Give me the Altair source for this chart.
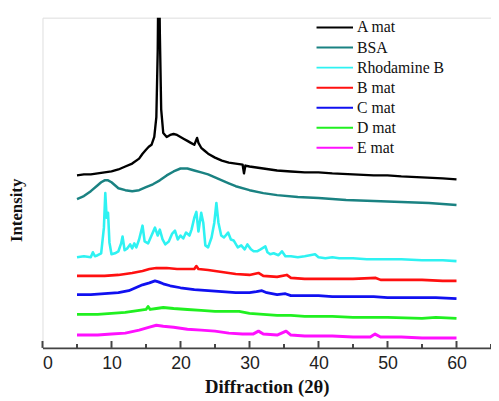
import altair as alt
import pandas as pd

names = ["A mat", "BSA", "Rhodamine B", "B mat", "C mat", "D mat", "E mat"]
colors = ["#000000", "#1a8282", "#2ef2f2", "#ff1010", "#1010f0", "#20f020", "#ff10ff"]
widths = [2.4, 3.0, 2.4, 2.6, 2.6, 2.6, 2.6]

# Intensity in arbitrary (offset-stacked) units
a_x = [5, 6, 7, 8, 9, 10, 11, 12, 13, 14, 14.5, 15, 15.4, 15.8, 16.2, 16.5, 16.7, 16.85, 17.0,
       17.2, 17.5, 18, 18.5, 19, 19.5, 20, 20.5, 21, 21.5, 22, 22.4, 22.6, 23, 23.5, 24, 25, 26,
       27, 28, 29, 29.2, 29.4, 30, 32, 34, 36, 38, 40, 42, 45, 48, 50, 52, 55, 58, 60]
a_y = [173, 174, 174, 175, 176, 177, 179, 182, 185, 190, 195, 199, 202, 204, 212, 232, 300, 420, 320,
       240, 216, 212, 214, 215, 214, 212, 210, 208, 206, 204, 211, 206, 201, 198, 195, 191, 188,
       186, 185, 184, 175, 183, 182, 180, 178, 177, 176, 176, 175, 174, 173, 173, 172, 171, 170, 169]

bsa_x = [5, 6, 7, 8, 8.5, 9, 9.5, 10, 10.5, 11, 12, 13, 14, 15, 16, 17, 18, 19, 20, 20.5, 21, 22,
         23, 24, 25, 26, 27, 28, 30, 32, 34, 37, 40, 44, 48, 52, 56, 60]
bsa_y = [149, 152, 157, 163, 166, 168, 168, 166, 163, 160, 158, 157, 158, 161, 164, 168, 173, 177, 180,
         180, 180, 178, 176, 174, 171, 168, 165, 162, 158, 155, 153, 151, 150, 148, 147, 146, 145, 143]

rb_x = [5, 6, 7, 7.3, 7.6, 8, 8.5, 8.9, 9.1, 9.3, 9.5, 9.7, 10, 10.5, 11, 11.4, 11.6, 11.9, 12.3,
        12.7, 13, 13.3, 13.6, 14, 14.5, 14.8, 15.3, 15.8, 16.3, 16.7, 17, 17.4, 17.8, 18.3, 18.8,
        19.2, 19.6, 20, 20.4, 20.8, 21.3, 21.6, 22, 22.3, 22.6, 23, 23.3, 23.6, 24, 24.5, 24.9,
        25.2, 25.5, 25.9, 26.3, 26.9, 27.3, 27.7, 28.3, 28.8, 29.3, 29.7, 30.2, 30.6, 31.1, 31.6,
        32.3, 32.6, 33, 33.5, 34.2, 34.7, 35.2, 36, 37, 38, 39.5, 40, 41, 42, 43, 45, 47, 50, 52,
        55, 58, 60]
rb_y = [90, 91, 90, 95, 91, 92, 94, 120, 155, 130, 135, 105, 93, 94, 96, 104, 111, 97, 99,
        103, 99, 104, 100, 108, 122, 106, 104, 112, 120, 112, 118, 108, 103, 106, 114,
        117, 108, 112, 109, 115, 112, 118, 130, 136, 116, 135, 125, 102, 100, 110, 125,
        145, 125, 112, 110, 115, 108, 107, 100, 102, 98, 103, 98, 96, 96, 98,
        101, 95, 93, 94, 92, 96, 91, 91, 90, 91, 93, 90, 89, 90, 89, 89, 88, 88, 88,
        87, 87, 86]

b_x = [5, 7, 9, 11, 13, 14.5, 15.5, 16.5, 18, 19.5, 21, 22, 22.3, 22.6, 24, 26, 28, 30, 31.3, 32,
       34, 35.4, 36, 38, 40, 42, 45, 48.3, 49, 52, 55, 58, 60]
b_y = [71, 71, 71, 72, 74, 76, 78, 79, 79, 78, 78, 78, 81, 78, 77, 75, 73, 72, 74, 71,
       70, 72, 69, 68, 68, 68, 68, 69, 67, 67, 67, 66, 66]

c_x = [5, 7, 9, 11, 12.5, 13.5, 14.5, 15.5, 16.3, 16.8, 17.5, 18.5, 20, 22, 24, 26, 28, 30, 31,
       31.8, 32.5, 34, 35.2, 36, 38, 40, 42, 45, 48, 50, 54, 57, 60]
c_y = [52, 52, 53, 54, 56, 59, 62, 64, 66, 65, 63, 61, 59, 57, 56, 55, 54, 54, 55,
       56, 54, 52, 53, 51, 51, 51, 50, 50, 50, 49, 49, 49, 48]

d_x = [5, 8, 10, 12, 14, 15, 15.3, 15.6, 16.5, 17.5, 19, 21, 23, 25, 27, 28.5, 30, 32, 34, 36,
       38, 40, 42, 45, 50, 55, 57, 60]
d_y = [32, 32, 33, 34, 36, 37, 40, 37, 38, 39, 38, 37, 36, 35, 35, 35, 33, 32, 31, 31,
       30, 30, 30, 29, 29, 28, 29, 28]

e_x = [5, 8, 10, 12, 14, 15.5, 16.5, 17.5, 19, 21, 23, 25, 27, 29, 30.5, 31.3, 32, 34, 35.3, 36,
       38, 40, 42, 45, 47.5, 48.2, 49, 52, 55, 58, 60]
e_y = [11, 11, 12, 13, 16, 19, 21, 20, 19, 17, 16, 15, 13, 12, 12, 15, 12, 11, 15, 11,
       10, 10, 10, 9, 9, 12, 9, 9, 8, 8, 8]

major_ticks = [0, 10, 20, 30, 40, 50, 60]
minor_ticks = [5, 15, 25, 35, 45, 55, 65]

series = [(names[0], a_x, a_y), (names[1], bsa_x, bsa_y), (names[2], rb_x, rb_y),
          (names[3], b_x, b_y), (names[4], c_x, c_y), (names[5], d_x, d_y), (names[6], e_x, e_y)]
rows = []
for nm, xs, ys in series:
    for xv, yv in zip(xs, ys):
        rows.append({"theta": xv, "I": yv, "s": nm})
df = pd.DataFrame(rows)

W, H = 455, 335
xscale = alt.Scale(domain=[0, 65], nice=False, zero=False)
color = alt.Color("s:N", scale=alt.Scale(domain=names, range=colors), legend=None)
swidth = alt.StrokeWidth("s:N", scale=alt.Scale(domain=names, range=widths), legend=None)

lines = alt.Chart(df).mark_line(clip=True, strokeJoin="round").encode(
    x=alt.X("theta:Q", scale=xscale,
            axis=alt.Axis(values=major_ticks, ticks=False, grid=False, title="Diffraction (2θ)",
                          domainColor="#444444", domainWidth=2, labelFont="Liberation Sans",
                          labelFontSize=18, labelColor="#222222", labelPadding=7,
                          titleFont="Liberation Serif", titleFontWeight="bold", titleFontSize=19,
                          titleColor="#111111", titlePadding=5, format="d")),
    y=alt.Y("I:Q", scale=alt.Scale(domain=[-2, 333], nice=False, zero=False),
            axis=alt.Axis(domain=False, ticks=False, labels=False, grid=False, title="Intensity",
                          titleFont="Liberation Serif", titleFontWeight="bold", titleFontSize=17,
                          titleColor="#111111", titleX=-21, titleY=195, titleAlign="center",
                          titleBaseline="alphabetic")),
    color=color,
    strokeWidth=swidth,
    order=alt.Order("theta:Q"),
)

major_df = pd.DataFrame({"t": major_ticks})
minor_df = pd.DataFrame({"t": minor_ticks})
major = alt.Chart(major_df).mark_rule(color="#444444", strokeWidth=2).encode(
    x=alt.X("t:Q", scale=xscale), y=alt.value(H), y2=alt.value(H - 7))
minor = alt.Chart(minor_df).mark_rule(color="#444444", strokeWidth=2).encode(
    x=alt.X("t:Q", scale=xscale), y=alt.value(H), y2=alt.value(H - 4))

leg_df = pd.DataFrame({"s": names})
leg_y = alt.Y("s:N", scale=alt.Scale(type="point", domain=names, range=[10, 132], padding=0), axis=None)
leg_rule = alt.Chart(leg_df).mark_rule(strokeWidth=2).encode(
    x=alt.value(278), x2=alt.value(315), y=leg_y, color=color)
leg_text = alt.Chart(leg_df).mark_text(align="left", baseline="middle", font="Liberation Serif",
                                        fontSize=16, color="#111111").encode(
    x=alt.value(319), y=leg_y, text="s:N")

chart = alt.layer(lines, major, minor, leg_rule, leg_text).resolve_scale(
    y="independent"
).properties(
    width=W, height=H,
    autosize=alt.AutoSizeParams(type="none"),
    padding={"left": 35, "top": 7, "right": 0, "bottom": 47},
).configure_view(stroke=None).configure(background="white")

chart.save("out.html", embed_options={"renderer": "svg", "actions": False})
